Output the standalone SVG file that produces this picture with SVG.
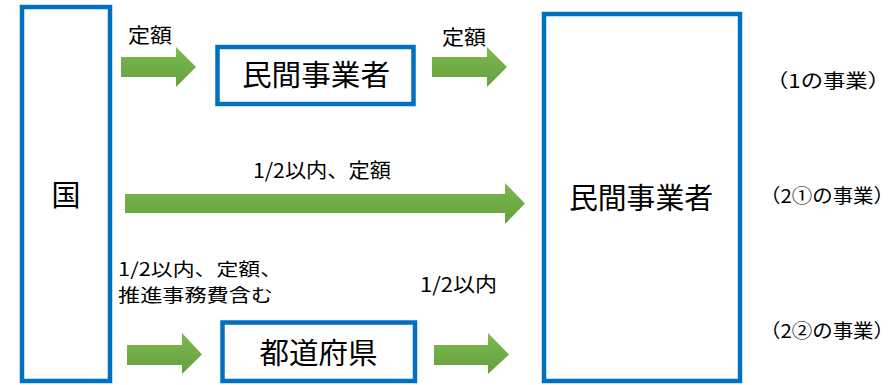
<svg xmlns="http://www.w3.org/2000/svg" width="894" height="385" viewBox="0 0 894 385">
<defs>
<linearGradient id="g" x1="0" y1="0" x2="0" y2="1">
<stop offset="0" stop-color="#7db94e"/>
<stop offset="0.5" stop-color="#70ad47"/>
<stop offset="1" stop-color="#64a03c"/>
</linearGradient>
<style>
.box{fill:#fff;stroke:#0070c0;stroke-width:4.5}
.arr{fill:url(#g)}
text{font-family:"Noto Sans CJK JP","Noto Sans",sans-serif;fill:#000}
.big{font-size:29px}
.lbl{font-size:20px}
.lbl2{font-size:18px}
.side{font-size:19px}
</style>
</defs>
<rect width="894" height="385" fill="#fff"/>
<g id="kuni">
<rect class="box" x="22" y="7" width="88" height="374"/>
<text class="big" x="66" y="206" text-anchor="middle">国</text>
</g>
<g id="minkan1">
<rect class="box" x="217.5" y="47" width="196" height="57"/>
<text class="big" x="316" y="86" text-anchor="middle" textLength="148" lengthAdjust="spacingAndGlyphs">民間事業者</text>
</g>
<g id="minkan2">
<rect class="box" x="544" y="14" width="196" height="367"/>
<text class="big" x="641" y="209" text-anchor="middle" textLength="144" lengthAdjust="spacingAndGlyphs">民間事業者</text>
</g>
<g id="todofuken">
<rect class="box" x="222.5" y="322.5" width="192.5" height="58.5"/>
<text class="big" x="318.5" y="364" text-anchor="middle" textLength="118" lengthAdjust="spacingAndGlyphs">都道府県</text>
</g>
<g id="connectors">
<polygon class="arr" points="121,57 176,57 176,47 196,67 176,87 176,77 121,77"/>
<polygon class="arr" points="432,57 487,57 487,47 507,67 487,87 487,77 432,77"/>
<polygon class="arr" points="125,194 505,194 505,183 525,203.5 505,224 505,213 125,213"/>
<polygon class="arr" points="127,345 182,345 182,333 202,354.5 182,374 182,365 127,365"/>
<polygon class="arr" points="434,345 488,345 488,333 509,354.5 488,374 488,365 434,365"/>
</g>
<g id="labels">
<text class="lbl" x="128" y="43" textLength="44" lengthAdjust="spacingAndGlyphs">定額</text>
<text class="lbl" x="442" y="45" textLength="44" lengthAdjust="spacingAndGlyphs">定額</text>
<text class="lbl" x="253" y="178" textLength="138" lengthAdjust="spacingAndGlyphs">1/2以内、定額</text>
<text class="lbl2" x="118" y="276" textLength="164" lengthAdjust="spacingAndGlyphs">1/2以内、定額、</text>
<text class="lbl2" x="118" y="302" textLength="155" lengthAdjust="spacingAndGlyphs">推進事務費含む</text>
<text class="lbl" x="420" y="292" textLength="77" lengthAdjust="spacingAndGlyphs">1/2以内</text>
<text class="side" x="766" y="88" textLength="124" lengthAdjust="spacingAndGlyphs">（1の事業）</text>
<text class="side" x="760" y="203" textLength="134" lengthAdjust="spacingAndGlyphs">（2①の事業）</text>
<text class="side" x="760" y="338" textLength="134" lengthAdjust="spacingAndGlyphs">（2②の事業）</text>
</g>
</svg>
